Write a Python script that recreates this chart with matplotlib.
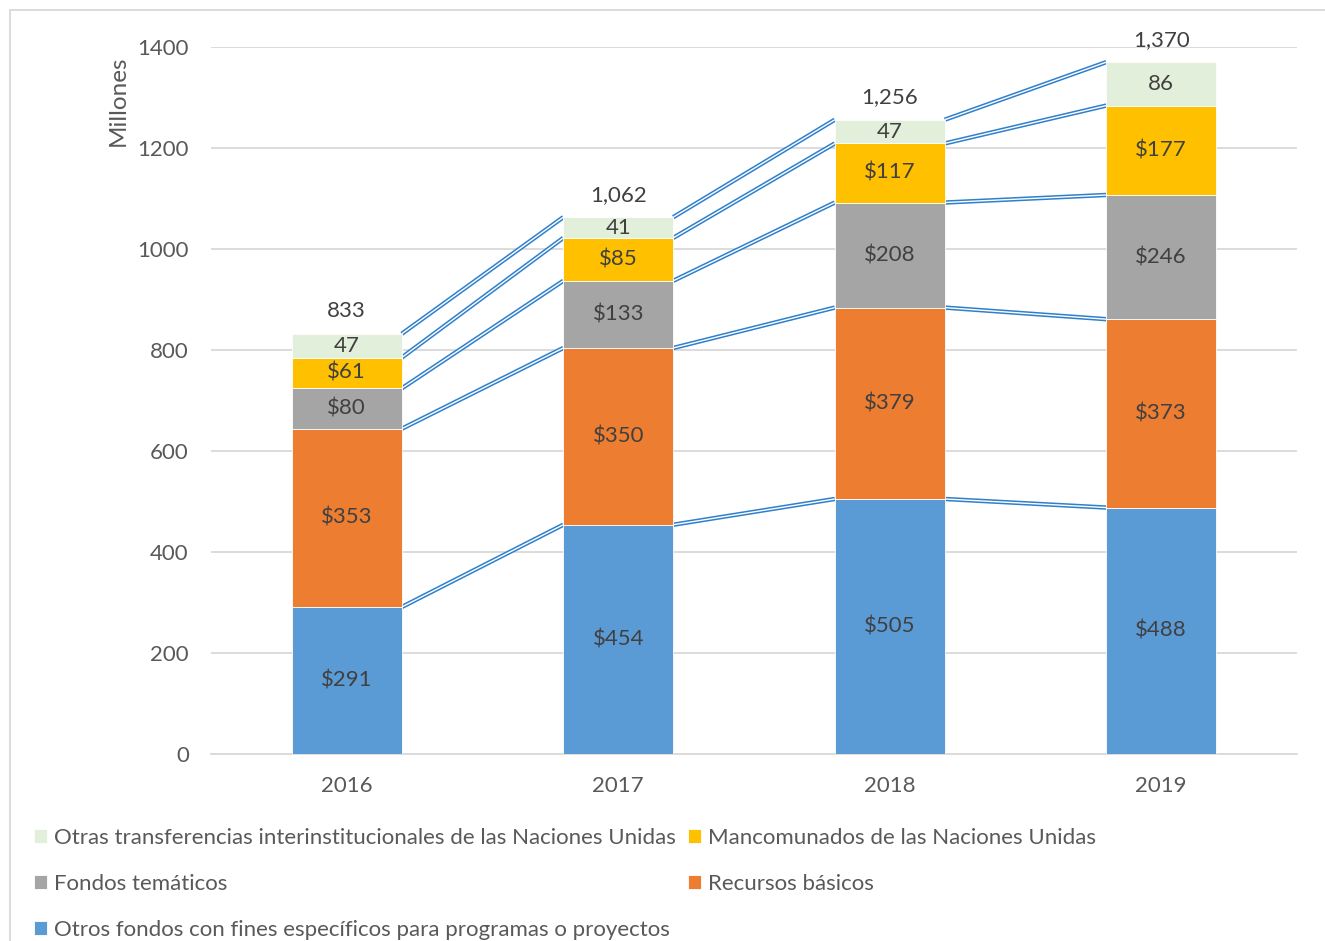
import numpy as np
import matplotlib
matplotlib.use("Agg")
from matplotlib import pyplot as plt
from matplotlib.patches import Rectangle

years = ["2016", "2017", "2018", "2019"]
otros_fondos = [291, 454, 505, 488]
recursos_basicos = [353, 350, 379, 373]
fondos_tematicos = [80, 133, 208, 246]
mancomunados = [61, 85, 117, 177]
otras_transf = [47, 41, 47, 86]
totals = [833, 1062, 1256, 1370]

series_names = ["Otros fondos con fines específicos para programas o proyectos",
                "Recursos básicos",
                "Fondos temáticos",
                "Mancomunados de las Naciones Unidas",
                "Otras transferencias interinstitucionales de las Naciones Unidas"]
series_vals = [otros_fondos, recursos_basicos, fondos_tematicos, mancomunados, otras_transf]
colors = ["#5B9BD5", "#ED7D31", "#A5A5A5", "#FFC000", "#E2EFDA"]
dollar = [True, True, True, True, False]

plt.rcParams["font.family"] = ["Lato", "DejaVu Sans"]
TXT = "#595959"
LBL = "#404040"
FS = 16

fig = plt.figure(figsize=(13.25, 9.41), dpi=100)
ax = fig.add_axes([211/1325, 1-754/941, 1086/1325, 707/941])

x = np.arange(len(years))
w = 0.405
bottom = np.zeros(len(years))
handles = []
tops = []
for name, vals, col, dl in zip(series_names, series_vals, colors, dollar):
    vals = np.array(vals, dtype=float)
    b = ax.bar(x, vals, w, bottom=bottom, color=col, edgecolor="white", linewidth=0.6,
               label=name, zorder=3)
    handles.append(b)
    for xi, v, bt in zip(x, vals, bottom):
        txt = ("$%d" % v) if dl else ("%d" % v)
        ax.text(xi, bt + v/2, txt, ha="center", va="center", fontsize=FS, color=LBL, zorder=5)
    bottom = bottom + vals
    tops.append(bottom.copy())

# series lines between bars (double blue line)
for top in tops:
    for i in range(len(years) - 1):
        xs = [x[i] + w/2, x[i+1] - w/2]
        ys = [top[i], top[i+1]]
        ax.plot(xs, ys, color="#2F80CC", linewidth=3.2, zorder=2, solid_capstyle="butt")
        ax.plot(xs, ys, color="white", linewidth=1.0, zorder=2.1, solid_capstyle="butt")

for xi, t, lab in zip(x, tops[-1], totals):
    ax.annotate("{:,}".format(lab), (xi, t), xytext=(0, 9), textcoords="offset points",
                ha="center", va="bottom", fontsize=FS, color=LBL, annotation_clip=False)

ax.set_xlim(-0.5, 3.5)
ax.set_ylim(0, 1400)
ax.set_yticks(range(0, 1401, 200))
ax.set_xticks(x)
ax.set_xticklabels(years)
ax.tick_params(axis="both", length=0, labelsize=FS, labelcolor=TXT)
ax.tick_params(axis="y", pad=16)
ax.tick_params(axis="x", pad=16)
ax.grid(axis="y", color="#D9D9D9", linewidth=1.3, zorder=0)
ax.set_axisbelow(True)
for s in ["top", "right", "left"]:
    ax.spines[s].set_visible(False)
ax.spines["bottom"].set_color("#D9D9D9")
ax.spines["bottom"].set_linewidth(1.3)

fig.text(118/1325, 1-101/941, "Millones", rotation=90, ha="center", va="center",
         fontsize=17.5, color=TXT)

order = [4, 2, 0, 3, 1]
fig.legend([handles[i] for i in order], [series_names[i] for i in order],
           loc="upper left", bbox_to_anchor=(34/1325, 1-828/941), ncol=2, frameon=False,
           fontsize=FS, labelcolor=TXT, handlelength=0.6, handleheight=0.6,
           handletextpad=0.3, labelspacing=1.17, columnspacing=0.55, borderpad=0,
           borderaxespad=0)

fig.patches.append(Rectangle((10/1325, -0.1), 1.2, 1-10/941+0.1, transform=fig.transFigure,
                             fill=False, edgecolor="#D9D9D9", linewidth=1.3))

fig.savefig("out.png", dpi=100)
